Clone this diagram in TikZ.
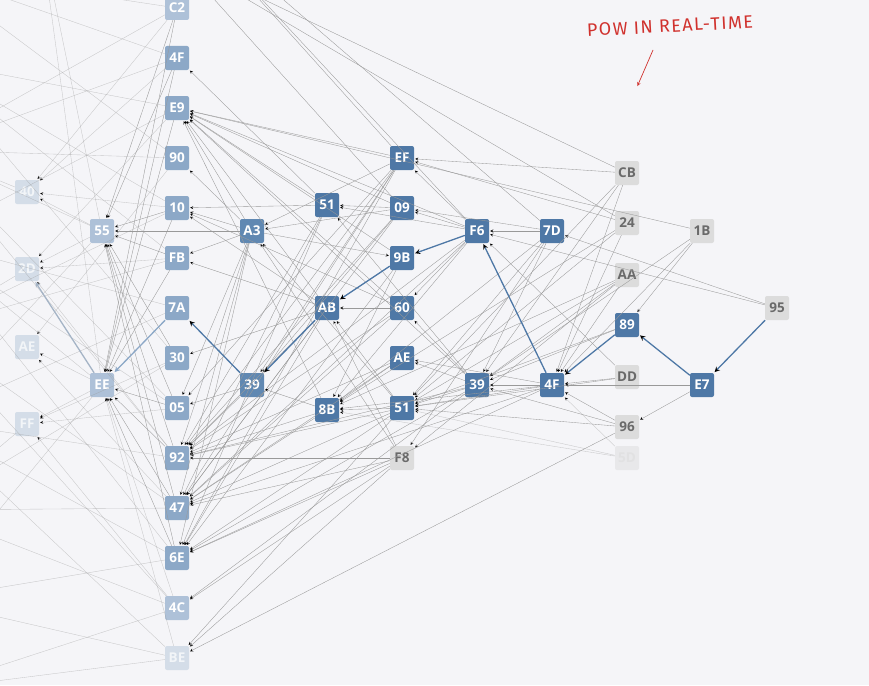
\documentclass[tikz,border=0pt]{standalone}
\usepackage{fontspec}
\setsansfont{Open Sans}
\newfontfamily\notefont[LetterSpace=8]{Fira Sans}
\usetikzlibrary{positioning}

\definecolor{bgcol}{HTML}{F5F5F8}
\definecolor{hot}{HTML}{4E78A6}
\definecolor{warm}{HTML}{6088B2}
\definecolor{mild}{HTML}{8CA8C7}
\definecolor{pale}{HTML}{AEC1D8}
\definecolor{ghost}{HTML}{D4DDE8}
\definecolor{idle}{HTML}{DCDCDC}
\definecolor{idletext}{HTML}{6A6A6A}
\definecolor{edgecol}{HTML}{999999}
\definecolor{notered}{HTML}{D0312D}

\begin{document}
\begin{tikzpicture}[%
    x=1pt, y=-1pt,
    >=stealth,
    shorten >=1pt,
    node distance=50pt,
    on grid,
    box/.style={rectangle, rounded corners=2pt, minimum size=24pt, inner sep=0pt,
      font=\sffamily\bfseries\fontsize{13.5}{13.5}\selectfont, text=white, fill=hot},
    warmbox/.style={box, fill=warm},
    mildbox/.style={box, fill=mild},
    palebox/.style={box, fill=pale},
    ghostbox/.style={box, fill=ghost, text=white!70!ghost},
    idlebox/.style={box, fill=idle, text=idletext},
    gonebox/.style={box, fill=idle!50!bgcol, text=idle!80!bgcol},
    link/.style={->, draw=edgecol, line width=0.35pt},
    faint/.style={link, draw opacity=0.5},
    route/.style={->, draw=hot, line width=1.3pt},
    note/.style={font=\notefont\fontsize{18}{18}\selectfont, text=notered}
  ]
    \useasboundingbox (0,0) rectangle (869,685);
    \fill[bgcol] (0,0) rectangle (869,685);
    \clip (0,0) rectangle (869,685);

    \coordinate (w1) at (-75,-30);
    \coordinate (w2) at (-75,60);
    \coordinate (w3) at (-75,150);
    \coordinate (w4) at (-75,240);
    \coordinate (w5) at (-75,330);
    \coordinate (w6) at (-75,420);
    \coordinate (w7) at (-75,510);
    \coordinate (w8) at (-75,600);
    \coordinate (w9) at (-75,690);
    \coordinate (n1) at (177,-42);
    \coordinate (n2) at (177,-92);
    \coordinate (n3) at (40,-70);

    \node[ghostbox] (a40) at (27,192) {40};
    \node[ghostbox] (a2D) [below=77pt of a40] {2D};
    \node[ghostbox] (aAE) [below=78pt of a2D] {AE};
    \node[ghostbox] (aFF) [below=77pt of aAE] {FF};

    \node[palebox] (b55) at (102,231) {55};
    \node[palebox] (bEE) [below=154pt of b55] {EE};

    \node[palebox] (cC2) at (177,8) {C2};
    \node[mildbox] (c4F) [below=of cC2] {4F};
    \node[mildbox] (cE9) [below=of c4F] {E9};
    \node[mildbox] (c90) [below=of cE9] {90};
    \node[mildbox] (c10) [below=of c90] {10};
    \node[mildbox] (cFB) [below=of c10] {FB};
    \node[mildbox] (c7A) [below=of cFB] {7A};
    \node[mildbox] (c30) [below=of c7A] {30};
    \node[mildbox] (c05) [below=of c30] {05};
    \node[mildbox] (c92) [below=of c05] {92};
    \node[mildbox] (c47) [below=of c92] {47};
    \node[mildbox] (c6E) [below=of c47] {6E};
    \node[palebox] (c4C) [below=of c6E] {4C};
    \node[ghostbox] (cBE) [below=of c4C] {BE};

    \node[warmbox] (dA3) at (252,231) {A3};
    \node[warmbox] (d39) [below=154pt of dA3] {39};

    \node[box] (e51) at (327,205) {51};
    \node[box] (eAB) [below=103pt of e51] {AB};
    \node[box] (e8B) [below=102pt of eAB] {8B};

    \node[box] (fEF) at (402,158) {EF};
    \node[box] (f09) [below=of fEF] {09};
    \node[box] (f9B) [below=of f09] {9B};
    \node[box] (f60) [below=of f9B] {60};
    \node[box] (fAE) [below=of f60] {AE};
    \node[box] (f51) [below=of fAE] {51};
    \node[idlebox] (fF8) [below=of f51] {F8};

    \node[box] (gF6) at (477,231) {F6};
    \node[box] (g39) [below=154pt of gF6] {39};

    \node[box] (h7D) [right=75pt of gF6] {7D};
    \node[box] (h4F) [right=75pt of g39] {4F};

    \node[idlebox] (iCB) at (627,173) {CB};
    \node[idlebox] (i24) [below=of iCB] {24};
    \node[idlebox] (iAA) [below=52pt of i24] {AA};
    \node[box] (i89) [below=of iAA] {89};
    \node[idlebox] (iDD) [below=52pt of i89] {DD};
    \node[idlebox] (i96) [below=of iDD] {96};
    \node[gonebox] (i5D) [below=31pt of i96] {5D};

    \node[idlebox] (j1B) at (702,231) {1B};
    \node[box] (jE7) [below=154pt of j1B] {E7};

    \node[idlebox] (k95) at (777,308) {95};

    \path[link] (k95) edge (h7D)
                (k95) edge (gF6)
                (j1B) edge (i89)
                (j1B) edge (h4F)
                (j1B) edge (g39)
                (j1B) edge (cE9)
                (jE7) edge (h4F)
                (jE7) edge (i96)
                (iCB) edge (fEF)
                (iCB) edge (h4F)
                (iCB) edge (g39)
                (iCB) edge (f51)
                (i24) edge (fEF)
                (i24) edge (h4F)
                (i24) edge (f51)
                (i24) edge (e8B)
                (iAA) edge (h4F)
                (iAA) edge (g39)
                (iAA) edge (f51)
                (iAA) edge (fF8)
                (iAA) edge (e8B)
                (i89) edge (g39)
                (i89) edge (f51)
                (iDD) edge (h4F)
                (iDD) edge (f51)
                (iDD) edge (gF6)
                (i96) edge (h4F)
                (i96) edge (f51)
                (i96) edge (g39)
                (i96) edge (cBE)
                (h7D) edge (gF6)
                (h7D) edge (f09)
                (h7D) edge (g39)
                (h7D) edge (f51)
                (h7D) edge (e8B)
                (h7D) edge (fF8)
                (h4F) edge (g39)
                (h4F) edge (f51)
                (h4F) edge (fAE)
                (h4F) edge (e8B)
                (h4F) edge (c47)
                (h4F) edge (c6E)
                (gF6) edge (fEF)
                (gF6) edge (f09)
                (gF6) edge (e51)
                (gF6) edge (cE9)
                (gF6) edge (f60)
                (gF6) edge (e8B)
                (gF6) edge (c92)
                (gF6) edge (c47)
                (g39) edge (f51)
                (g39) edge (fAE)
                (g39) edge (f60)
                (g39) edge (e51)
                (g39) edge (cE9)
                (g39) edge (c92)
                (g39) edge (c6E)
                (g39) edge (c4C)
                (fEF) edge (cE9)
                (fEF) edge (dA3)
                (fEF) edge (d39)
                (fEF) edge (c05)
                (fEF) edge (c92)
                (fEF) edge (c47)
                (fEF) edge (c6E)
                (f09) edge (e51)
                (f09) edge (dA3)
                (f09) edge (cE9)
                (f09) edge (d39)
                (f09) edge (c92)
                (f09) edge (c47)
                (dA3) edge (f9B)
                (f9B) edge (cE9)
                (f9B) edge (c6E)
                (f9B) edge (e8B)
                (f60) edge (eAB)
                (f60) edge (cE9)
                (f60) edge (c10)
                (f60) edge (c92)
                (f60) edge (c47)
                (fAE) edge (e8B)
                (fAE) edge (c92)
                (fAE) edge (c47)
                (f51) edge (eAB)
                (f51) edge (e8B)
                (f51) edge (dA3)
                (f51) edge (c92)
                (f51) edge (c47)
                (f51) edge (c6E)
                (f51) edge (cBE)
                (fF8) edge (eAB)
                (fF8) edge (dA3)
                (fF8) edge (c92)
                (fF8) edge (c47)
                (fF8) edge (c6E)
                (fF8) edge (c4C)
                (fF8) edge (cBE)
                (eAB) edge (cE9)
                (eAB) edge (c10)
                (eAB) edge (cFB)
                (eAB) edge (c30)
                (eAB) edge (c92)
                (eAB) edge (c47)
                (eAB) edge (c6E)
                (e51) edge (cE9)
                (e51) edge (c4F)
                (e51) edge (c10)
                (e51) edge (c92)
                (e51) edge (c47)
                (e51) edge (c6E)
                (e8B) edge (cE9)
                (e8B) edge (d39)
                (e8B) edge (c92)
                (e8B) edge (c47)
                (dA3) edge (b55)
                (dA3) edge (cE9)
                (dA3) edge (c90)
                (dA3) edge (c10)
                (dA3) edge (cFB)
                (dA3) edge (c05)
                (dA3) edge (c92)
                (dA3) edge (c47)
                (dA3) edge (c6E)
                (d39) edge (c05)
                (d39) edge (c92)
                (iCB) edge (n1)
                (i24) edge (n1)
                (f09) edge (n1)
                (fEF) edge (n2)
                (gF6) edge (n2)
                (h7D) edge (n2)
                (cC2) edge (bEE)
                (c4F) edge (bEE)
                (cE9) edge (bEE)
                (c10) edge (bEE)
                (cFB) edge (bEE)
                (c05) edge (bEE)
                (c92) edge (bEE)
                (c47) edge (bEE)
                (c6E) edge (bEE)
                (cC2) edge (b55)
                (c4F) edge (b55)
                (c10) edge (b55)
                (cFB) edge (b55)
                (c30) edge (b55)
                (c05) edge (b55)
                (c92) edge (b55)
                (c47) edge (b55)
                (c6E) edge (b55);

    \path[faint] (i5D) edge (h4F)
                 (i5D) edge (f51)
                 (i5D) edge (e8B)
                 (c4C) edge (bEE)
                 (cBE) edge (bEE)
                 (cC2) edge (w1)
                 (cC2) edge (w3)
                 (cC2) edge (a40)
                 (c4F) edge (w1)
                 (c4F) edge (w3)
                 (c4F) edge (a40)
                 (cE9) edge (w2)
                 (cE9) edge (w4)
                 (cE9) edge (a2D)
                 (c90) edge (w1)
                 (c90) edge (w3)
                 (c90) edge (aAE)
                 (c10) edge (a40)
                 (c10) edge (w2)
                 (c10) edge (w5)
                 (cFB) edge (a2D)
                 (cFB) edge (w2)
                 (cFB) edge (w5)
                 (c7A) edge (w4)
                 (c7A) edge (w6)
                 (c30) edge (aFF)
                 (c30) edge (w2)
                 (c30) edge (w7)
                 (c05) edge (aFF)
                 (c05) edge (w3)
                 (c05) edge (w4)
                 (c92) edge (a2D)
                 (c92) edge (w6)
                 (c92) edge (w3)
                 (c47) edge (aAE)
                 (c47) edge (w5)
                 (c47) edge (w7)
                 (c6E) edge (w4)
                 (c6E) edge (w6)
                 (c6E) edge (w8)
                 (c4C) edge (aFF)
                 (c4C) edge (w5)
                 (c4C) edge (w7)
                 (c4C) edge (w9)
                 (cBE) edge (w6)
                 (cBE) edge (w8)
                 (cBE) edge (w9)
                 (b55) edge (a40)
                 (b55) edge (a2D)
                 (b55) edge (w3)
                 (b55) edge (w6)
                 (b55) edge (n3)
                 (bEE) edge (aAE)
                 (bEE) edge (aFF)
                 (bEE) edge (w4)
                 (bEE) edge (w8)
                 (bEE) edge (n3)
                 (a40) edge (w3)
                 (a2D) edge (w5)
                 (aFF) edge (w7);

    \path[route] (k95) edge (jE7)
                 (jE7) edge (i89)
                 (i89) edge (h4F)
                 (h4F) edge (gF6)
                 (gF6) edge (f9B)
                 (f9B) edge (eAB)
                 (eAB) edge (d39)
                 (d39) edge (c7A)
                 (c7A) edge [draw=mild] (bEE)
                 (bEE) edge [draw=pale!80!gray] (a2D);

    \node[note, rotate=3] (pow) at (670,26) {POW IN REAL-TIME};
    \coordinate (powtail) at (653,50);
    \coordinate (powtip) at (637,87);
    \draw[->, draw=notered, line width=0.7pt] (powtail) -- (powtip);
  \end{tikzpicture}
\end{document}
